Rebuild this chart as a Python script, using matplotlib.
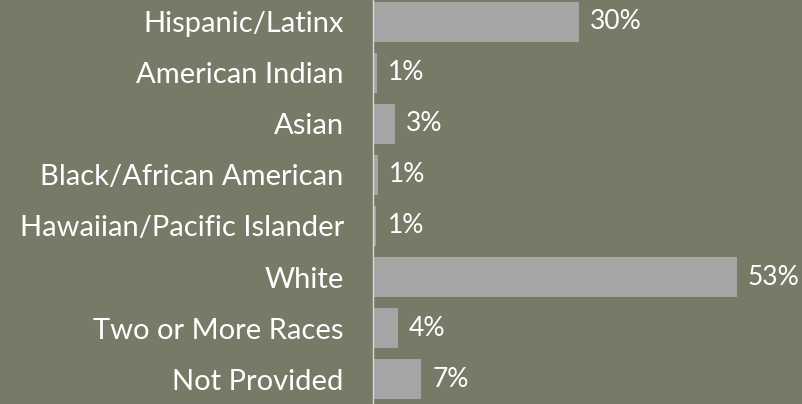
import matplotlib
matplotlib.use("Agg")
import matplotlib.pyplot as plt

categories = ["Hispanic/Latinx", "American Indian", "Asian", "Black/African American",
              "Hawaiian/Pacific Islander", "White", "Two or More Races", "Not Provided"]
values = [30.0, 0.6, 3.2, 0.7, 0.5, 53.0, 3.6, 7.0]
value_labels = ["30%", "1%", "3%", "1%", "1%", "53%", "4%", "7%"]

BG = "#797967"
BAR = "#a5a5a5"
plt.rcParams['font.family'] = ['Lato', 'DejaVu Sans']

fig = plt.figure(figsize=(8.03, 4.04), dpi=100, facecolor=BG)
ax = fig.add_axes([373/803, 0, 1 - 373/803, 1])
ax.set_facecolor(BG)
y = list(range(len(categories)))
ax.barh(y, values, height=0.79, color=BAR)
ax.set_xlim(0, 430/6.86)
ax.set_ylim(7.49, -0.431)
for s in ["top", "right", "bottom"]:
    ax.spines[s].set_visible(False)
ax.spines["left"].set_color("#d9d9d9")
ax.spines["left"].set_linewidth(1.0)
ax.set_xticks([])
ax.set_yticks(y)
ax.set_yticklabels(categories, color="white", fontsize=21)
ax.tick_params(axis="y", length=0, pad=21)
for yi, v, lab in zip(y, values, value_labels):
    ax.annotate(lab, (v, yi), xytext=(8, 0), textcoords="offset points",
                va="center", ha="left", color="white", fontsize=19)
fig.savefig("out.png", dpi=100, facecolor=BG)
